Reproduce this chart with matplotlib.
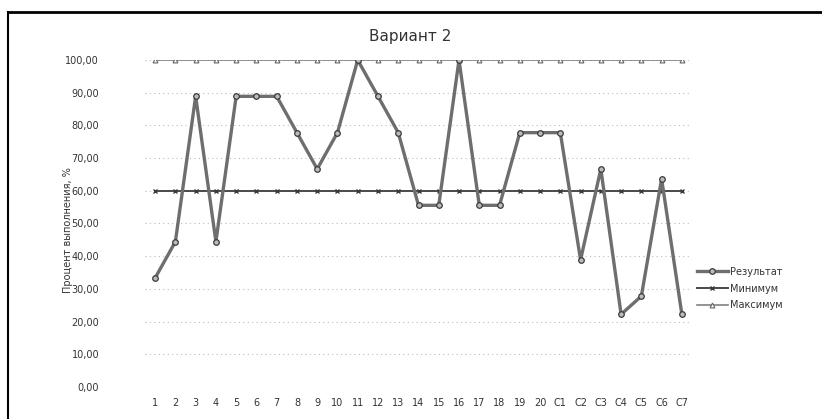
import matplotlib
matplotlib.use("Agg")
import matplotlib.pyplot as plt
from matplotlib.lines import Line2D

categories = [str(i) for i in range(1, 21)] + ["C1", "C2", "C3", "C4", "C5", "C6", "C7"]
result = [33.33, 44.44, 88.89, 44.44, 88.89, 88.89, 88.89, 77.78, 66.67, 77.78,
          100.0, 88.89, 77.78, 55.56, 55.56, 100.0, 55.56, 55.56, 77.78, 77.78,
          77.78, 38.89, 66.67, 22.22, 27.78, 63.64, 22.22]
minimum = [60.0] * len(categories)
maximum = [100.0] * len(categories)
yticks = [0, 10, 20, 30, 40, 50, 60, 70, 80, 90, 100]
series_names = ["Результат", "Минимум", "Максимум"]
title = "Вариант 2"
ylabel = "Процент выполнения, %"

plt.rcParams['font.family'] = ['DejaVu Sans']
fig = plt.figure(figsize=(8.22, 4.19), dpi=100)
ax = fig.add_axes([145/822, 1-387/419, (692-145)/822, (387-60)/419])

x = list(range(len(categories)))
l_max, = ax.plot(x, maximum, color='#808080', lw=1.2, marker='^', ms=3.5,
                 mfc='white', mec='#666666', mew=0.8, zorder=3)
l_min, = ax.plot(x, minimum, color='#4a4a4a', lw=1.4, marker='x', ms=3.5,
                 mec='#3a3a3a', mew=1.0, zorder=3)
l_res, = ax.plot(x, result, color='#6e6e6e', lw=2.4, marker='o', ms=4,
                 mfc='#bbbbbb', mec='#3a3a3a', mew=0.9, zorder=4)

ax.set_xlim(-0.5, len(categories) - 0.5)
ax.set_ylim(0, 100)
ax.set_yticks(yticks)
ax.set_yticklabels([f"{v:.2f}".replace('.', ',') for v in yticks],
                   fontsize=7, color='#333333')
ax.set_xticks(x)
ax.set_xticklabels(categories, fontsize=7, color='#333333')
ax.tick_params(length=0, pad=8)
ax.tick_params(axis='y', pad=33)
ax.grid(axis='y', color='#bbbbbb', linestyle=(0, (1, 3)), lw=0.8)
for s in ax.spines.values():
    s.set_visible(False)

fig.text(410/822, 1-37/419, title, ha='center', va='center', fontsize=11, color='#333333')
fig.text(68/822, 1-230/419, ylabel, ha='center', va='center', rotation=90,
         fontsize=7, color='#333333')

handles = [l_res, l_min, l_max]
fig.legend(handles, series_names, loc='upper left',
           bbox_to_anchor=(688/822, 1-258/419), frameon=False,
           fontsize=7, handlelength=3.2, handletextpad=0.2,
           labelspacing=0.7, labelcolor='#333333')

# chart frame (partially visible in scan)
fig.add_artist(Line2D([8/822, 1], [1-12/419, 1-12/419], color='black', lw=2,
                      transform=fig.transFigure))
fig.add_artist(Line2D([8/822, 8/822], [0, 1-12/419], color='black', lw=1.5,
                      transform=fig.transFigure))

fig.savefig("out.png", dpi=100)
